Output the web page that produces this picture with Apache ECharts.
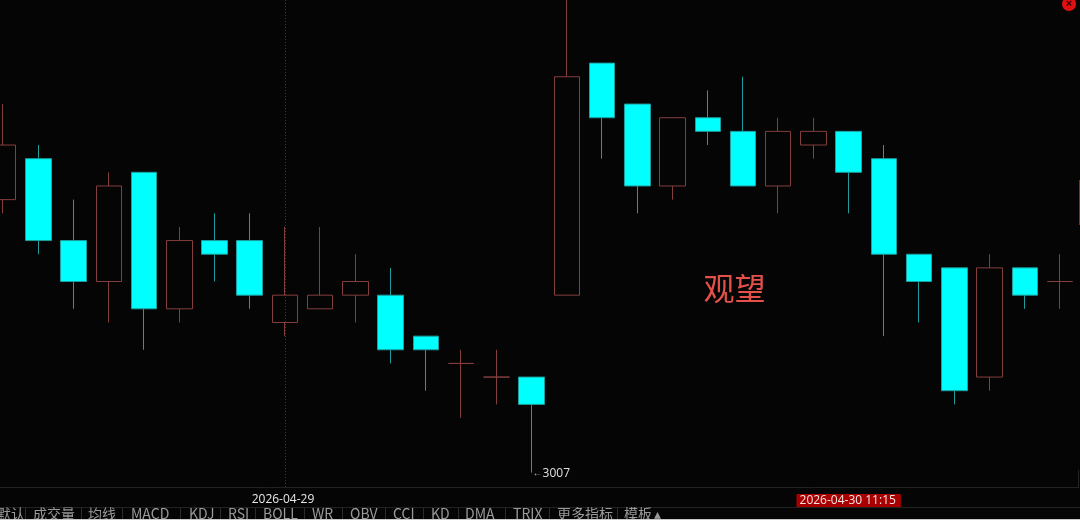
<!DOCTYPE html>
<html><head><meta charset="utf-8">
<style>html,body{margin:0;padding:0;background:#050505;overflow:hidden;width:1080px;height:520px}#c{position:absolute;left:-16px;top:0;width:1100px;height:520px}</style>
<script src="https://cdn.jsdelivr.net/npm/echarts@6/dist/echarts.min.js"></script>
</head><body><div id="c"></div>
<script>
var dateLabels = ['','','','','','','','','2026-04-29','','','','','','','','','','','','','','','','2026-04-30 11:15','','','','','',''];
var openPrice  = [3027,3030,3024,3021,3029,3019,3024,3024,3018,3019,3020,3020,3017,3015,3014,3014,3020,3037,3034,3028,3033,3032,3028,3031,3032,3030,3023,3022,3014,3022,3021];
var closePrice = [3031,3024,3021,3028,3019,3024,3023,3020,3020,3020,3021,3016,3016,3015,3014,3012,3036,3033,3028,3033,3032,3028,3032,3032,3029,3023,3021,3013,3022,3020,3021];
var lowPrice   = [3026,3023,3019,3018,3016,3018,3021,3019,3017,3019,3018,3015,3013,3011,3012,3007,3020,3030,3026,3027,3031,3028,3026,3030,3026,3017,3018,3012,3013,3019,3019];
var highPrice  = [3034,3031,3027,3029,3029,3025,3026,3026,3025,3025,3023,3022,3017,3016,3016,3014,3043,3037,3034,3033,3035,3036,3033,3033,3032,3031,3023,3022,3023,3022,3023];
var lowLabel = '3007';
var adviceText = '观望';
var tabs = [['默认',-3],['成交量',33],['均线',88],['MACD',131],['KDJ',189],['RSI',228],['BOLL',263],['WR',312],['OBV',350],['CCI',393],['KD',431],['DMA',465],['TRIX',513],['更多指标',557],['模板',624],['▴',654]];
var tabSeparators = [25,81,122,180,220,255,304,342,385,423,458,505,549,617];

var font = '"Noto Sans CJK SC","Open Sans",sans-serif';
var latin = '"Open Sans",sans-serif';
var ohlc = openPrice.map(function(o,i){return [o,closePrice[i],lowPrice[i],highPrice[i]];});
var chart = echarts.init(document.getElementById('c'),null,{renderer:'canvas'});
var gfx = [
  {type:'line',shape:{x1:285.5,y1:0,x2:285.5,y2:488},style:{stroke:'#3a3a3a',lineWidth:1,lineDash:[1,2]},z:1},
  {type:'line',shape:{x1:0,y1:487.5,x2:1078,y2:487.5},style:{stroke:'#222',lineWidth:1},z:1},
  {type:'line',shape:{x1:0,y1:507.5,x2:1080,y2:507.5},style:{stroke:'#222',lineWidth:1},z:1},
  {type:'line',shape:{x1:1078.5,y1:470,x2:1078.5,y2:488},style:{stroke:'#222',lineWidth:1},z:1},
  {type:'line',shape:{x1:1079.5,y1:180,x2:1079.5,y2:225},style:{stroke:'#6e3434',lineWidth:1},z:1},
  {type:'rect',shape:{x:0,y:519,width:1080,height:1},style:{fill:'#c8c8c8'},z:30},
  {type:'rect',shape:{x:662,y:509,width:418,height:10},style:{fill:'#050505'},z:2},
  {type:'circle',shape:{cx:1069,cy:4,r:7},style:{fill:'#e01010'},z:5},
  {type:'text',x:1069,y:4,style:{text:'×',fill:'#300',font:'bold 11px sans-serif',textAlign:'center',textVerticalAlign:'middle'},z:6},
  {type:'text',x:734.5,y:288,style:{text:adviceText,fill:'#e4514a',font:'400 31px '+font,textAlign:'center',textVerticalAlign:'middle'},z:6}
];
tabs.forEach(function(t){
  gfx.push({type:'text',x:t[1],y:513.5,style:{text:t[0],fill:'#9a9a9a',font:'14px '+font,textVerticalAlign:'middle'},z:6});
});
tabSeparators.forEach(function(x){
  gfx.push({type:'line',shape:{x1:x+.5,y1:508,x2:x+.5,y2:519},style:{stroke:'#2c2c2c',lineWidth:1},z:6});
});
chart.setOption({
  backgroundColor:'#050505',
  animation:false,
  graphic:[{type:'group',x:16,y:0,children:gfx}],
  grid:{left:1.5,top:0.6,width:1092.2,height:488,containLabel:false},
  xAxis:{type:'category',data:dateLabels,boundaryGap:true,
    axisLine:{show:false},axisTick:{show:false},splitLine:{show:false},
    axisLabel:{show:true,interval:0,margin:5.4,hideOverlap:false,fontFamily:latin,fontSize:12,color:'#e8e8e8',
      formatter:function(v){return v.length>10?'{hl|'+v+'}':'{d|'+v+'}';},
      rich:{d:{color:'#e8e8e8',fontSize:12,fontFamily:latin,padding:[0,4,0,0]},
            hl:{backgroundColor:'#a80000',color:'#f4e4e4',fontSize:12,fontFamily:latin,padding:[1,5,1,3]}}}},
  yAxis:{type:'value',min:3005.83,max:3041.58,show:false,splitLine:{show:false}},
  series:[{type:'candlestick',data:ohlc,barWidth:26,clip:true,
    itemStyle:{color:'transparent',color0:'#00ffff',borderColor:'#853e3e',borderColor0:'#1f9c9c',borderColorDoji:'#853e3e',borderWidth:1},
    markPoint:{symbol:'circle',symbolSize:0,silent:true,
      data:[{coord:[15,3007],value:lowLabel}],
      label:{show:true,position:'right',distance:1,offset:[0,1],formatter:'{a|←}'+lowLabel,color:'#e0e0e0',fontSize:12,fontFamily:latin,
        rich:{a:{fontSize:10,color:'#bbb',padding:[0,0,0,0]}}}}
  }]
});
</script></body></html>
